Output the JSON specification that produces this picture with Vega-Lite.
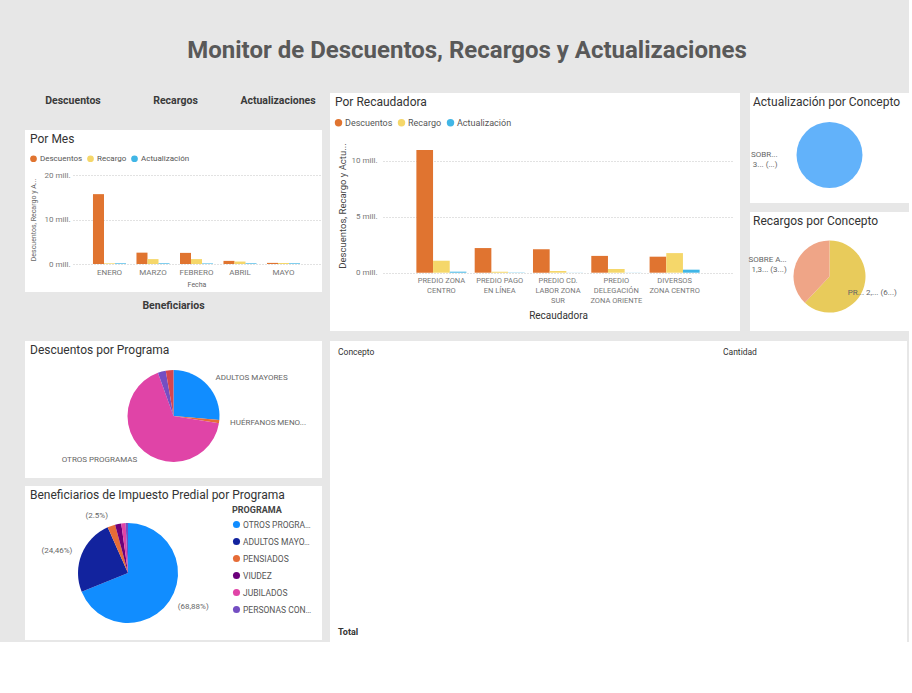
{
  "$schema": "https://vega.github.io/schema/vega-lite/v6.json",
  "padding": {"left": 25, "top": 39, "right": 0, "bottom": 0},
  "background": "#e7e7e7",
  "title": {"text": "Monitor de Descuentos, Recargos y Actualizaciones", "fontSize": 24, "fontWeight": "bold", "color": "#595959", "anchor": "middle", "frame": "bounds", "offset": 30, "dx": 0},
  "datasets": {
    "kpi": [{"indicador": "Descuentos"}, {"indicador": "Recargos"}, {"indicador": "Actualizaciones"}],
    "kpi2": [{"indicador": "Beneficiarios"}],
    "porMes": [
      {"mes": "ENERO", "medida": "Descuentos", "valor": 15700000},
      {"mes": "ENERO", "medida": "Recargo", "valor": 150000},
      {"mes": "ENERO", "medida": "Actualización", "valor": 150000},
      {"mes": "MARZO", "medida": "Descuentos", "valor": 2550000},
      {"mes": "MARZO", "medida": "Recargo", "valor": 1100000},
      {"mes": "MARZO", "medida": "Actualización", "valor": 150000},
      {"mes": "FEBRERO", "medida": "Descuentos", "valor": 2500000},
      {"mes": "FEBRERO", "medida": "Recargo", "valor": 1100000},
      {"mes": "FEBRERO", "medida": "Actualización", "valor": 120000},
      {"mes": "ABRIL", "medida": "Descuentos", "valor": 700000},
      {"mes": "ABRIL", "medida": "Recargo", "valor": 550000},
      {"mes": "ABRIL", "medida": "Actualización", "valor": 150000},
      {"mes": "MAYO", "medida": "Descuentos", "valor": 250000},
      {"mes": "MAYO", "medida": "Recargo", "valor": 200000},
      {"mes": "MAYO", "medida": "Actualización", "valor": 150000}
    ],
    "porRecaudadora": [
      {"recaudadora": "PREDIO ZONA CENTRO", "medida": "Descuentos", "valor": 10950000},
      {"recaudadora": "PREDIO ZONA CENTRO", "medida": "Recargo", "valor": 1070000},
      {"recaudadora": "PREDIO ZONA CENTRO", "medida": "Actualización", "valor": 90000},
      {"recaudadora": "PREDIO PAGO EN LÍNEA", "medida": "Descuentos", "valor": 2200000},
      {"recaudadora": "PREDIO PAGO EN LÍNEA", "medida": "Recargo", "valor": 80000},
      {"recaudadora": "PREDIO PAGO EN LÍNEA", "medida": "Actualización", "valor": 10000},
      {"recaudadora": "PREDIO CD. LABOR ZONA SUR", "medida": "Descuentos", "valor": 2100000},
      {"recaudadora": "PREDIO CD. LABOR ZONA SUR", "medida": "Recargo", "valor": 150000},
      {"recaudadora": "PREDIO CD. LABOR ZONA SUR", "medida": "Actualización", "valor": 10000},
      {"recaudadora": "PREDIO DELEGACIÓN ZONA ORIENTE", "medida": "Descuentos", "valor": 1500000},
      {"recaudadora": "PREDIO DELEGACIÓN ZONA ORIENTE", "medida": "Recargo", "valor": 330000},
      {"recaudadora": "PREDIO DELEGACIÓN ZONA ORIENTE", "medida": "Actualización", "valor": 10000},
      {"recaudadora": "DIVERSOS ZONA CENTRO", "medida": "Descuentos", "valor": 1430000},
      {"recaudadora": "DIVERSOS ZONA CENTRO", "medida": "Recargo", "valor": 1750000},
      {"recaudadora": "DIVERSOS ZONA CENTRO", "medida": "Actualización", "valor": 270000}
    ],
    "actualizacion": [{"concepto": "SOBR...", "valor": 100, "etiqueta": "SOBR...\n3... (...)"}],
    "recargos": [
      {"concepto": "PR...", "valor": 62, "etiqueta": "PR... 2,... (6...)"},
      {"concepto": "SOBRE A...", "valor": 38, "etiqueta": "SOBRE A...\n1,3... (3...)"}
    ],
    "descuentosPrograma": [
      {"programa": "ADULTOS MAYORES", "valor": 26.4, "etiqueta": "ADULTOS MAYORES"},
      {"programa": "HUÉRFANOS MENORES", "valor": 1.1, "etiqueta": "HUÉRFANOS MENO..."},
      {"programa": "OTROS PROGRAMAS", "valor": 67.0, "etiqueta": "OTROS PROGRAMAS"},
      {"programa": "PENSIADOS", "valor": 2.8, "etiqueta": ""},
      {"programa": "PERSONAS CON DISCAPACIDAD", "valor": 2.7, "etiqueta": ""}
    ],
    "beneficiarios": [
      {"programa": "OTROS PROGRAMAS", "valor": 68.88, "etiqueta": "(68,88%)"},
      {"programa": "ADULTOS MAYORES", "valor": 24.46, "etiqueta": "(24,46%)"},
      {"programa": "PENSIADOS", "valor": 2.5, "etiqueta": "(2.5%)"},
      {"programa": "VIUDEZ", "valor": 2.0, "etiqueta": ""},
      {"programa": "JUBILADOS", "valor": 1.4, "etiqueta": ""},
      {"programa": "PERSONAS CON DISCAPACIDAD", "valor": 0.76, "etiqueta": ""}
    ],
    "tabla": [
      {"texto": "Concepto", "columna": "Concepto", "fila": "encabezado"},
      {"texto": "Cantidad", "columna": "Cantidad", "fila": "encabezado"},
      {"texto": "Total", "columna": "Concepto", "fila": "total"}
    ]
  },
  "hconcat": [
    {
      "vconcat": [
        {
          "width": 297, "height": 29,
          "view": {"fill": "transparent", "stroke": null},
          "data": {"name": "kpi"},
          "mark": {"type": "text", "fontSize": 10.5, "fontWeight": "bold", "color": "#3a3a3a", "dy": -6.5},
          "encoding": {
            "x": {"field": "indicador", "type": "nominal", "sort": null, "scale": {"type": "point", "range": [48, 253], "padding": 0}, "axis": null},
            "text": {"field": "indicador"}
          }
        },
        {
          "width": 297, "height": 162,
          "view": {"fill": "white", "stroke": null},
          "title": {"text": "Por Mes"},
          "data": {"name": "porMes"},
          "mark": {"type": "bar"},
          "encoding": {
            "x": {"field": "mes", "type": "nominal", "sort": null,
                  "scale": {"range": [48, 295], "paddingInner": 0.24, "paddingOuter": 0.459},
                  "axis": {"title": "Fecha", "labelAngle": 0, "offset": -28, "labelPadding": 4, "titleY": 16.5, "titleFontSize": 7, "titleColor": "#666666"}},
            "xOffset": {"field": "medida", "type": "nominal", "scale": {"domain": ["Descuentos", "Recargo", "Actualización"]}},
            "y": {"field": "valor", "type": "quantitative",
                  "scale": {"domain": [0, 20000000], "range": [134, 45], "nice": false},
                  "axis": {"values": [0, 10000000, 20000000], "labelExpr": "datum.value / 1000000 + ' mill.'", "title": "Descuentos, Recargo y A...", "offset": -48, "labelPadding": 3, "titleX": -37, "titleFontSize": 7, "titleColor": "#666666"}},
            "color": {"field": "medida", "type": "nominal",
                      "scale": {"domain": ["Descuentos", "Recargo", "Actualización"], "range": ["#E07430", "#F5D76A", "#41B6E6"]},
                      "legend": {"title": null, "orient": "none", "legendX": 4, "legendY": 24, "direction": "horizontal", "symbolSize": 45, "labelFontSize": 8, "columnPadding": 3, "labelOffset": 2}}
          }
        },
        {
          "width": 297, "height": 33,
          "view": {"fill": "transparent", "stroke": null},
          "data": {"name": "kpi2"},
          "mark": {"type": "text", "fontSize": 10.5, "fontWeight": "bold", "color": "#3a3a3a", "dy": -11},
          "encoding": {"text": {"field": "indicador"}}
        },
        {
          "width": 297, "height": 137,
          "view": {"fill": "white", "stroke": null},
          "title": {"text": "Descuentos por Programa"},
          "data": {"name": "descuentosPrograma"},
          "encoding": {
            "theta": {"field": "valor", "type": "quantitative", "stack": true},
            "order": {"field": "programa", "type": "ordinal", "sort": "ascending"}
          },
          "layer": [
            {
              "mark": {"type": "arc", "outerRadius": 46, "yOffset": 6.5},
              "encoding": {
                "color": {"field": "programa", "type": "nominal",
                          "scale": {"domain": ["ADULTOS MAYORES", "HUÉRFANOS MENORES", "OTROS PROGRAMAS", "PENSIADOS", "PERSONAS CON DISCAPACIDAD"], "range": ["#118DFF", "#E66C37", "#E044A7", "#744EC2", "#D64550"]},
                          "legend": null}
              }
            },
            {
              "mark": {"type": "text", "radius": 57, "yOffset": 6.5, "fontSize": 8, "color": "#666666", "baseline": "middle",
                       "align": {"expr": "datum.valor_start + datum.valor_end < 100 ? 'left' : 'right'"}},
              "encoding": {
                "detail": {"field": "programa", "type": "nominal"},
                "text": {"field": "etiqueta"}
              }
            }
          ]
        },
        {
          "width": 297, "height": 154,
          "view": {"fill": "white", "stroke": null},
          "title": {"text": "Beneficiarios de Impuesto Predial por Programa"},
          "data": {"name": "beneficiarios"},
          "encoding": {
            "theta": {"field": "valor", "type": "quantitative", "stack": true},
            "order": {"field": "valor", "type": "quantitative", "sort": "descending"}
          },
          "layer": [
            {
              "mark": {"type": "arc", "outerRadius": 50, "xOffset": -45.5, "yOffset": 10},
              "encoding": {
                "color": {"field": "programa", "type": "nominal",
                          "scale": {"domain": ["OTROS PROGRAMAS", "ADULTOS MAYORES", "PENSIADOS", "VIUDEZ", "JUBILADOS", "PERSONAS CON DISCAPACIDAD"], "range": ["#118DFF", "#12239E", "#E66C37", "#6B007B", "#E044A7", "#744EC2"]},
                          "legend": {"title": "PROGRAMA", "orient": "none", "legendX": 207, "legendY": 20, "titleFontSize": 9, "titleFontWeight": "bold", "titleColor": "#444444", "titlePadding": 5, "labelFontSize": 8.5, "labelLimit": 70, "symbolSize": 50, "rowPadding": 8, "labelOffset": 2}}
              }
            },
            {
              "mark": {"type": "text", "radius": 60, "xOffset": -45.5, "yOffset": 10, "fontSize": 8, "color": "#666666", "baseline": "middle",
                       "align": {"expr": "datum.valor_start + datum.valor_end < 100 ? 'left' : 'right'"}},
              "encoding": {
                "detail": {"field": "programa", "type": "nominal"},
                "text": {"field": "etiqueta"}
              }
            }
          ]
        }
      ],
      "spacing": 8,
      "resolve": {"scale": {"color": "independent", "theta": "independent", "xOffset": "independent"}, "legend": {"color": "independent"}}
    },
    {
      "vconcat": [
        {
          "hconcat": [
            {
              "width": 410, "height": 238,
              "view": {"fill": "white", "stroke": null},
              "title": {"text": "Por Recaudadora"},
              "data": {"name": "porRecaudadora"},
              "mark": {"type": "bar"},
              "encoding": {
                "x": {"field": "recaudadora", "type": "nominal", "sort": null,
                      "scale": {"range": [53, 403], "paddingInner": 0.142, "paddingOuter": 0.5725},
                      "axis": {"title": "Recaudadora", "labelAngle": 0, "offset": -58.3, "labelPadding": 4, "labelFontSize": 7.5, "labelLineHeight": 9.7, "titleY": 38, "titleFontSize": 10, "titleColor": "#333333",
                               "labelExpr": "datum.value == 'PREDIO ZONA CENTRO' ? ['PREDIO ZONA', 'CENTRO'] : datum.value == 'PREDIO PAGO EN LÍNEA' ? ['PREDIO PAGO', 'EN LÍNEA'] : datum.value == 'PREDIO CD. LABOR ZONA SUR' ? ['PREDIO CD.', 'LABOR ZONA', 'SUR'] : datum.value == 'PREDIO DELEGACIÓN ZONA ORIENTE' ? ['PREDIO', 'DELEGACIÓN', 'ZONA ORIENTE'] : datum.value == 'DIVERSOS ZONA CENTRO' ? ['DIVERSOS', 'ZONA CENTRO'] : datum.label"}},
                "xOffset": {"field": "medida", "type": "nominal", "scale": {"domain": ["Descuentos", "Recargo", "Actualización"]}},
                "y": {"field": "valor", "type": "quantitative",
                      "scale": {"domain": [0, 12000000], "range": [179.7, 45.3], "nice": false},
                      "axis": {"values": [0, 5000000, 10000000], "labelExpr": "datum.value / 1000000 + ' mill.'", "title": "Descuentos, Recargo y Actu...", "offset": -50, "labelPadding": 3, "titleX": -33, "titleFontSize": 9.5, "titleColor": "#444444"}},
                "color": {"field": "medida", "type": "nominal",
                          "scale": {"domain": ["Descuentos", "Recargo", "Actualización"], "range": ["#E07430", "#F5D76A", "#41B6E6"]},
                          "legend": {"title": null, "orient": "none", "legendX": 4, "legendY": 25, "direction": "horizontal", "symbolSize": 55, "labelFontSize": 9, "columnPadding": 4, "labelOffset": 2}}
              }
            },
            {
              "vconcat": [
                {
                  "width": 159, "height": 110,
                  "view": {"fill": "white", "stroke": null},
                  "title": {"text": "Actualización por Concepto", "dx": 3},
                  "data": {"name": "actualizacion"},
                  "layer": [
                    {
                      "mark": {"type": "arc", "outerRadius": 33, "yOffset": 7},
                      "encoding": {
                        "theta": {"field": "valor", "type": "quantitative", "stack": true},
                        "color": {"field": "concepto", "type": "nominal", "scale": {"range": ["#62B2FA"]}, "legend": null}
                      }
                    },
                    {
                      "mark": {"type": "text", "theta": 4.712, "radius": 52, "yOffset": 7, "align": "right", "baseline": "middle", "fontSize": 8, "color": "#666666", "lineBreak": "\n"},
                      "encoding": {"text": {"field": "etiqueta"}}
                    }
                  ]
                },
                {
                  "width": 159, "height": 119,
                  "view": {"fill": "white", "stroke": null},
                  "title": {"text": "Recargos por Concepto", "dx": 3},
                  "data": {"name": "recargos"},
                  "encoding": {
                    "theta": {"field": "valor", "type": "quantitative", "stack": true},
                    "order": {"field": "concepto", "type": "ordinal", "sort": "ascending"}
                  },
                  "layer": [
                    {
                      "mark": {"type": "arc", "outerRadius": 36, "yOffset": 5},
                      "encoding": {
                        "color": {"field": "concepto", "type": "nominal", "scale": {"domain": ["PR...", "SOBRE A..."], "range": ["#E8CB5B", "#EFA587"]}, "legend": null}
                      }
                    },
                    {
                      "mark": {"type": "text", "radius": 46, "yOffset": 5, "fontSize": 8, "color": "#666666", "baseline": "middle", "lineBreak": "\n",
                               "align": {"expr": "datum.valor_start + datum.valor_end < 100 ? 'center' : 'right'"}},
                      "encoding": {
                        "detail": {"field": "concepto", "type": "nominal"},
                        "text": {"field": "etiqueta"}
                      }
                    }
                  ]
                }
              ],
              "spacing": 9,
              "resolve": {"scale": {"color": "independent", "theta": "independent"}, "legend": {"color": "independent"}}
            }
          ],
          "spacing": 8,
          "resolve": {"scale": {"color": "independent", "theta": "independent", "xOffset": "independent"}, "legend": {"color": "independent"}}
        },
        {
          "width": 577, "height": 301,
          "view": {"fill": "white", "stroke": null},
          "data": {"name": "tabla"},
          "mark": {"type": "text", "align": "left", "baseline": "middle", "color": "#333333",
                   "fontSize": {"expr": "datum.fila == 'total' ? 9 : 8.5"},
                   "fontWeight": {"expr": "datum.fila == 'total' ? 'bold' : 'normal'"}},
          "encoding": {
            "x": {"field": "columna", "type": "nominal", "scale": {"type": "point", "domain": ["Concepto", "Cantidad"], "range": [8, 393], "padding": 0}, "axis": null},
            "y": {"field": "fila", "type": "nominal", "scale": {"type": "point", "domain": ["encabezado", "total"], "range": [11, 291], "padding": 0}, "axis": null},
            "text": {"field": "texto"}
          }
        }
      ],
      "spacing": 10,
      "resolve": {"scale": {"color": "independent", "theta": "independent", "xOffset": "independent"}, "legend": {"color": "independent"}}
    }
  ],
  "spacing": 8,
  "resolve": {"scale": {"color": "independent", "theta": "independent", "xOffset": "independent"}, "legend": {"color": "independent"}},
  "config": {
    "font": "Roboto",
    "view": {"stroke": null},
    "axis": {"domain": false, "ticks": false, "labelColor": "#777777", "labelFontSize": 8, "titleFontWeight": "normal", "gridColor": "#c4c4c4", "gridDash": [1, 2]},
    "axisX": {"grid": false},
    "axisY": {"grid": true},
    "legend": {"labelColor": "#555555", "symbolType": "circle", "symbolOpacity": 1},
    "title": {"fontSize": 12, "fontWeight": "normal", "color": "#333333", "anchor": "start", "frame": "group", "offset": -16, "dx": 5}
  }
}
